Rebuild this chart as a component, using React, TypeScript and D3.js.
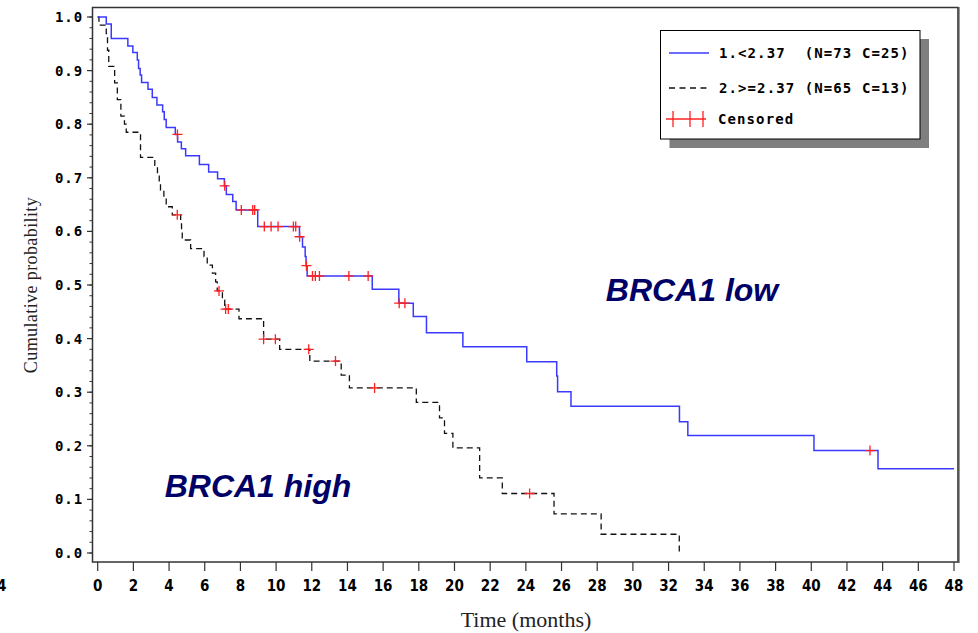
import React from 'react';
import * as d3 from 'd3';

// Kaplan-Meier steps: [time (months), survival after the drop]
const lowSteps: [number, number][] = [
  [0.48, 0.987], [0.76, 0.96], [1.69, 0.946], [1.97, 0.934], [2.22, 0.92], [2.29, 0.904],
  [2.38, 0.892], [2.46, 0.878], [2.82, 0.865], [3.06, 0.85], [3.32, 0.836], [3.64, 0.823],
  [3.73, 0.809], [3.84, 0.794], [4.35, 0.781], [4.48, 0.767], [4.69, 0.754], [4.93, 0.741],
  [5.7, 0.725], [6.22, 0.711], [6.72, 0.698], [7.1, 0.685], [7.21, 0.669], [7.57, 0.656],
  [7.76, 0.64], [8.97, 0.609], [11.31, 0.59], [11.48, 0.571], [11.63, 0.553], [11.68, 0.536],
  [11.74, 0.517], [15.39, 0.492], [16.88, 0.466], [17.69, 0.441], [18.43, 0.411],
  [20.47, 0.385], [24.05, 0.357], [25.73, 0.33], [25.78, 0.301], [26.53, 0.274],
  [32.61, 0.245], [33.08, 0.219], [40.15, 0.191], [43.74, 0.157], [48, 0.157],
];
const lowCensored: [number, number][] = [
  [4.47, 0.781], [7.12, 0.685], [8.05, 0.64], [8.69, 0.64], [8.8, 0.64], [9.34, 0.609],
  [9.72, 0.609], [10.11, 0.609], [10.97, 0.609], [11.1, 0.609], [11.32, 0.59], [11.7, 0.536],
  [12.04, 0.517], [12.2, 0.517], [12.43, 0.517], [14.08, 0.517], [15.16, 0.517],
  [16.9, 0.466], [17.22, 0.466], [43.29, 0.191],
];

const highSteps: [number, number][] = [
  [0.07, 0.985], [0.48, 0.969], [0.55, 0.938], [0.62, 0.908], [0.95, 0.877], [1.1, 0.846],
  [1.3, 0.815], [1.5, 0.8], [1.6, 0.785], [2.4, 0.738], [3.2, 0.723], [3.35, 0.708],
  [3.45, 0.692], [3.52, 0.677], [3.71, 0.662], [3.84, 0.646], [4.18, 0.631], [4.65, 0.614],
  [4.7, 0.599], [4.74, 0.584], [5.21, 0.568], [5.96, 0.553], [6.14, 0.537], [6.43, 0.522],
  [6.61, 0.506], [6.7, 0.489], [6.99, 0.472], [7.12, 0.455], [7.92, 0.437], [9.3, 0.399],
  [10.2, 0.38], [11.89, 0.358], [13.65, 0.332], [14.11, 0.308], [17.86, 0.281],
  [19.16, 0.252], [19.44, 0.223], [19.91, 0.196], [21.41, 0.14], [22.68, 0.111],
  [25.58, 0.073], [28.22, 0.035], [32.6, 0],
];
const highCensored: [number, number][] = [
  [4.46, 0.631], [6.8, 0.489], [7.17, 0.455], [7.32, 0.455], [9.3, 0.399], [9.96, 0.399],
  [11.83, 0.38], [13.33, 0.358], [15.52, 0.308], [24.21, 0.111],
];

const xTicks = d3.range(0, 49, 2);
const yTicks = d3.range(0, 1.01, 0.1);
const yMinor = d3.range(0, 1.001, 0.02);

const legendItems = ['1.<2.37  (N=73 C=25)', '2.>=2.37 (N=65 C=13)', 'Censored'];

const W = 978, H = 633;

export default function App() {
  const x = d3.scaleLinear().domain([0, 48]).range([97.7, 954]);
  const y = d3.scaleLinear().domain([0, 1]).range([553, 17]);

  const line = d3.line<[number, number]>()
    .x(d => x(d[0]))
    .y(d => y(d[1]))
    .curve(d3.curveStepAfter);

  const lowPath = line([[0, 1], ...lowSteps]) || '';
  const highPath = line([[0, 1], ...highSteps]) || '';

  const plus = (d: [number, number], i: number) => {
    const cx = x(d[0]), cy = y(d[1]);
    return <path key={i} d={`M${cx - 5},${cy}H${cx + 5}M${cx},${cy - 5}V${cy + 5}`} stroke="#ff2020" strokeWidth={1.3} fill="none" />;
  };

  const mono = '"DejaVu Sans Mono", "Liberation Mono", monospace';
  const narrow = '"Liberation Sans Narrow", "DejaVu Sans Condensed", sans-serif';

  return (
    <svg width={W} height={H} style={{ position: 'absolute', left: 0, top: 0, background: '#fff' }}>
      {/* frame */}
      <rect x={92.5} y={7.5} width={865.5} height={554.5} fill="none" stroke="#333" strokeWidth={1.5} />
      <line x1={958.5} x2={958.5} y1={7} y2={563} stroke="#555" strokeWidth={2.2} />

      {/* y axis ticks */}
      {yMinor.map((v, i) => (
        <line key={'m' + i} x1={89.5} x2={92.5} y1={y(v)} y2={y(v)} stroke="#333" strokeWidth={1} />
      ))}
      {yTicks.map((v, i) => (
        <g key={'y' + i}>
          <line x1={87} x2={92.5} y1={y(v)} y2={y(v)} stroke="#333" strokeWidth={1.2} />
          <text x={83} y={y(v) + 5} textAnchor="end" fontFamily={mono} fontWeight="bold" fontSize={14} letterSpacing={0.9} fill="#000">
            {v.toFixed(1)}
          </text>
        </g>
      ))}

      {/* x axis ticks */}
      {xTicks.map((v, i) => (
        <g key={'x' + i}>
          <line x1={x(v)} x2={x(v)} y1={562} y2={571} stroke="#333" strokeWidth={1.2} />
          <text x={x(v)} y={591} textAnchor="middle" fontFamily={narrow} fontWeight="bold" fontSize={15} fill="#000">
            {v}
          </text>
        </g>
      ))}
      <text x={-3} y={591} fontFamily={narrow} fontWeight="bold" fontSize={15} fill="#000">4</text>

      {/* axis titles */}
      <text transform="translate(37,285) rotate(-90)" textAnchor="middle" fontFamily='"Liberation Serif", serif' fontSize={18} letterSpacing={0.4} fill="#222">
        Cumulative probability
      </text>
      <text x={526} y={627} textAnchor="middle" fontFamily='"Liberation Serif", serif' fontSize={22} fill="#222">
        Time (months)
      </text>

      {/* curves */}
      <path d={highPath} fill="none" stroke="#111" strokeWidth={1.3} strokeDasharray="6,4" />
      <path d={lowPath} fill="none" stroke="#3a3aff" strokeWidth={1.5} />
      {lowCensored.map(plus)}
      {highCensored.map((d, i) => plus(d, i + 100))}

      {/* annotations */}
      <text x={692} y={301} textAnchor="middle" fontFamily='"Liberation Sans", Arial, sans-serif' fontWeight="bold" fontStyle="italic" fontSize={32} fill="#000066">
        BRCA1 low
      </text>
      <text x={258} y={497} textAnchor="middle" fontFamily='"Liberation Sans", Arial, sans-serif' fontWeight="bold" fontStyle="italic" fontSize={32} fill="#000066">
        BRCA1 high
      </text>

      {/* legend */}
      <rect x={669.5} y={39} width={259.5} height={109} fill="#7f7f7f" />
      <rect x={660.5} y={30.5} width={259.5} height={108.5} fill="#fff" stroke="#000" strokeWidth={1} />
      <line x1={669} x2={709} y1={53} y2={53} stroke="#3a3aff" strokeWidth={1.5} />
      <line x1={669} x2={709} y1={88} y2={88} stroke="#111" strokeWidth={1.3} strokeDasharray="6,4.5" />
      <line x1={666} x2={706} y1={119} y2={119} stroke="#ff2020" strokeWidth={1.3} />
      {[673, 690, 703].map((px, i) => (
        <line key={'c' + i} x1={px} x2={px} y1={111} y2={127} stroke="#ff2020" strokeWidth={1.3} />
      ))}
      {legendItems.map((t, i) => (
        <text key={'l' + i} x={i === 2 ? 718 : 719} y={[58, 93, 124][i]} fontFamily={mono} fontWeight="bold" fontSize={14} letterSpacing={1.1} fill="#000" style={{ whiteSpace: 'pre' }}>
          {t}
        </text>
      ))}
    </svg>
  );
}
